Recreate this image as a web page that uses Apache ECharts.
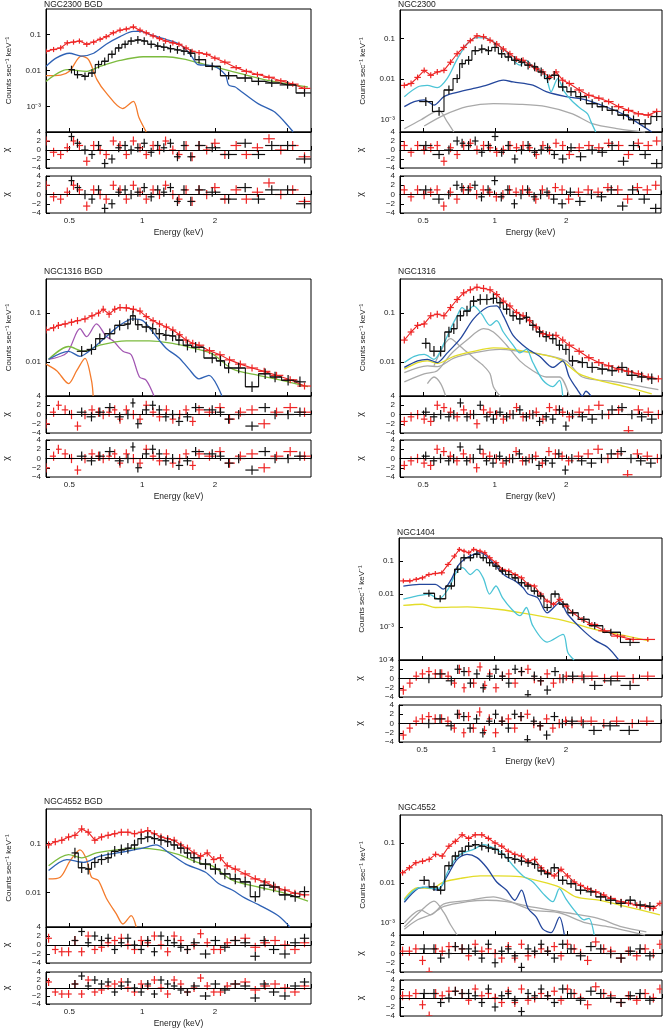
<!DOCTYPE html>
<html>
<head>
<meta charset="utf-8">
<script src="https://cdn.jsdelivr.net/npm/echarts@6/dist/echarts.min.js"></script>
<style>
  html, body { margin: 0; padding: 0; background: #fff; }
  #chart { width: 664px; height: 1029px; }
</style>
</head>
<body>
<div id="chart"></div>
<script>
// ---- NGC2300 BGD ----
const n2300bgdRed = [[0.40,.034],[0.43,.038],[0.46,.042],[0.49,.058],[0.52,.061],[0.55,.065],[0.59,.053],[0.63,.061],[0.67,.073],[0.71,.086],
  [0.76,.11],[0.81,.13],[0.86,.14],[0.92,.16],[0.98,.13],[1.04,.11],[1.11,.09],[1.18,.076],[1.25,.065],[1.34,.058],
  [1.42,.053],[1.52,.042],[1.61,.034],[1.72,.031],[1.85,.028],[2.0,.022],[2.2,.017],[2.45,.012],[2.7,.0095],[3.0,.0078],
  [3.35,.0065],[3.75,.0052],[4.2,.0042],[4.7,.0032]];
const n2300bgdResRed = [2,-0.5,-1,0.5,2,1,-2.5,1,0,-1, 2,1,-1,2,0.5,-1,1,0,2,0, -1,1,-1.5,1,0,1.5,-1,1,-1,0.5, 2.5,0,1,-1.5];
const n2300bgdBlack = [[0.51,.0106],[0.54,.0077],[0.58,.0069],[0.62,.0085],[0.66,.0146],[0.70,.018],[0.75,.028],[0.80,.042],[0.85,.053],[0.90,.065],
  [0.96,.07],[1.02,.065],[1.09,.053],[1.16,.047],[1.23,.044],[1.31,.04],[1.40,.037],[1.49,.034],[1.59,.03],[1.72,.02],
  [1.95,.013],[2.28,.0072],[2.67,.0062],[3.03,.005],[3.44,.0045],[4.0,.004],[4.7,.0024]];
const n2300bgdResBlack = [3,1.5,0,-1,1,-3,-2,0.5,1,0, 0.5,1.5,-0.5,1,0.5,1.5,-1.5,1,-1.5,1, 0.5,-1,1.5,-1,1,1,-2];
const n2300bgdBlue = [[0.4,.013],[0.44,.022],[0.5,.03],[0.56,.025],[0.63,.03],[0.71,.053],[0.81,.086],[0.92,.12],[0.99,.12],[1.07,.1],
  [1.25,.073],[1.45,.05],[1.6,.025],[1.7,.0146],[1.95,.0137],[2.21,.0077],[2.28,.004],[2.43,.0035],[2.51,.003],[3.03,.0012],[3.55,.0007],[4.22,.0002]];
const n2300bgdGreen = [[0.4,.005],[0.49,.0106],[0.59,.0095],[0.67,.013],[0.81,.019],[1.01,.024],[1.25,.024],[1.47,.021],[1.83,.0146],[2.35,.0095],[3.2,.0056],[4.85,.0035]];
const n2300bgdOrange = [[0.4,.0072],[0.46,.0075],[0.5,.0095],[0.56,.025],[0.6,.02],[0.65,.0056],[0.71,.0024],[0.83,.00089],[0.92,.0014],[0.97,.0005],[1.04,.0002]];

// ---- NGC2300 ----
const n2300Red = [[.417,.007],[.445,.0078],[.474,.011],[.505,.0164],[.538,.0124],[.573,.015],[.611,.0164],[.651,.026],[.694,.042],[.739,.06],
  [.788,.088],[.84,.116],[.895,.11],[.953,.09],[1.016,.073],[1.083,.055],[1.154,.042],[1.23,.031],[1.31,.029],[1.396,.022],
  [1.488,.018],[1.586,.015],[1.69,.011],[1.8,.015],[1.92,.0094],[2.045,.0078],[2.25,.0054],[2.47,.004],[2.72,.0034],[2.99,.0028],
  [3.29,.0021],[3.62,.0017],[3.98,.0014],[4.38,.0013],[4.75,.0016]];
const n2300ResRed = [1,-0.5,1,0,0.5,1,-2.5,0.5,-1,1, 1.5,0,1,0.5,-0.5,0,1,0.5,1,0.5, -1,1,0,1.5,1,-1,0.5,1,0.5,1.5, 1,-1,1.5,1,2];
const n2300Black = [[.513,.0028],[.583,.0016],[.641,.0054],[.694,.0103],[.728,.024],[.775,.029],[.826,.05],[.88,.055],[.938,.05],[1.0,.06],
  [1.066,.042],[1.136,.035],[1.21,.029],[1.29,.026],[1.375,.022],[1.465,.02],[1.56,.015],[1.66,.0103],[1.77,.0124],[1.92,.0064],
  [2.08,.0049],[2.28,.0037],[2.55,.0025],[2.81,.0021],[3.09,.0017],[3.45,.0013],[3.8,.001],[4.25,.0008],[4.75,.0012]];
const n2300ResBlack = [1,-1,0,2,1.5,1,2,-0.5,1,3, -0.5,1,-2,0,1,-0.5,0,0.5,-1,-2, 0.5,-1.5,0,-0.5,1,-2.5,1,-1,-3];
const n2300Cyan = [[.417,.0037],[.474,.0064],[.52,.007],[.573,.0062],[.63,.0103],[.694,.031],[.763,.073],[.84,.105],[.924,.1],[1.016,.073],
  [1.118,.046],[1.27,.022],[1.353,.029],[1.44,.02],[1.536,.017],[1.637,.011],[1.716,.0049],[1.83,.0103],[1.95,.0049],[2.11,.0028],
  [2.28,.0019],[2.44,.0014],[2.52,.0009],[2.64,.0005]];
const n2300Blue = [[.417,.0021],[.459,.0028],[.505,.0031],[.555,.0023],[.611,.0037],[.672,.0045],[.813,.0059],[.924,.0071],[1.083,.0094],[1.19,.0085],
  [1.44,.0071],[1.637,.0049],[1.98,.0037],[2.4,.0031],[2.9,.0021],[3.5,.0013],[4.53,.0005]];
const n2300GrayA = [[.505,.0007],[.611,.0013],[.763,.0021],[.984,.0025],[1.27,.0024],[1.637,.0021],[2.11,.0014],[2.55,.0008],[3.29,.0006],[4.25,.0005]];
const n2300GrayB = [[.417,.0006],[.49,.001],[.538,.0014],[.582,.0017],[.63,.0009],[.672,.0005]];

// ---- NGC1316 BGD ----
const n1316bgdRed = [[0.40,.045],[0.43,.05],[0.45,.056],[0.48,.06],[0.51,.065],[0.54,.07],[0.58,.076],[0.62,.088],[0.66,.1],[0.69,.12],
  [0.73,.095],[0.77,.12],[0.81,.13],[0.86,.128],[0.92,.12],[0.98,.11],[1.04,.085],[1.11,.07],[1.18,.06],[1.26,.052],
  [1.34,.045],[1.43,.036],[1.52,.028],[1.62,.024],[1.72,.022],[1.9,.017],[2.1,.014],[2.3,.011],[2.55,.009],[2.85,.0075],
  [3.2,.0064],[3.6,.0053],[4.1,.0043],[4.7,.0032]];
const n1316bgdResRed = [-2,0.5,2,1,0,-2.5,0,1,0.5,0, 0.5,1,-1,1,0,-1,2,0.5,-0.5,1, -1,0,1,-1.5,1,0.5,1.5,-1,0.5,1, -2,0.5,1.5,0.5];
const n1316bgdBlack = [[.562,.0165],[.617,.018],[.668,.03],[.735,.038],[.807,.056],[.873,.06],[.916,.088],[.96,.058],[1.04,.052],[1.106,.048],
  [1.178,.038],[1.254,.035],[1.337,.034],[1.42,.028],[1.54,.022],[1.665,.02],[1.95,.012],[2.11,.0105],[2.28,.0075],[2.51,.0075],
  [2.85,.0031],[3.23,.0057],[3.55,.0049],[4.02,.0042],[4.5,.0039]];
const n1316bgdResBlack = [0.5,-0.5,0.5,1.5,-0.5,0,2.5,-2,1,2, 1,-0.5,0,-1.5,-0.5,1.5,1,0.5,-1,0, -2.5,1.5,0,0,0.5];
const n1316bgdBlue = [[0.41,.0113],[0.496,.0165],[0.553,.013],[0.627,.0193],[0.711,.033],[0.807,.056],[0.916,.076],[1.006,.07],[1.106,.041],[1.254,.0193],
  [1.42,.0122],[1.56,.0072],[1.72,.0045],[1.89,.0053],[2.14,.002]];
const n1316bgdGreen = [[0.41,.0113],[0.496,.0207],[0.571,.0165],[0.668,.022],[0.86,.027],[1.07,.027],[1.337,.024],[1.61,.0193],[1.95,.0146],[2.36,.0072],
  [3.03,.0053],[3.78,.0042],[4.86,.0031]];
const n1316bgdPurple = [[0.41,.0113],[0.488,.0153],[0.553,.048],[0.589,.033],[0.647,.06],[0.711,.033],[0.758,.027],[0.833,.0165],[0.901,.014],[0.975,.0049],[1.04,.0042],[1.12,.002]];
const n1316bgdOrange = [[0.40,.009],[0.443,.0066],[0.496,.0036],[0.536,.0066],[0.58,.0118],[0.617,.0042],[0.627,.002]];

// ---- NGC1316 ----
const n1316Red = [[.417,.028],[.445,.041],[.474,.056],[.505,.06],[.538,.088],[.573,.095],[.611,.088],[.651,.13],[.694,.19],[.739,.26],
  [.788,.3],[.84,.34],[.895,.32],[.953,.3],[1.016,.24],[1.083,.176],[1.154,.14],[1.23,.103],[1.31,.088],[1.396,.07],
  [1.488,.052],[1.586,.038],[1.69,.035],[1.8,.035],[1.92,.028],[2.045,.022],[2.25,.0165],[2.47,.0122],[2.72,.0097],[2.99,.0083],
  [3.29,.0071],[3.62,.0064],[3.98,.0057],[4.38,.0049],[4.83,.0045]];
const n1316ResRed = [-1.5,-0.5,0,-1,-1.5,2,1.5,0.5,-0.5,1, 0,-2,1,0.5,0,-1,0,1.5,-0.5,0, 0.5,-1,1.5,1,0.5,-0.5,0.5,1,2,0, 1,-3.5,1,0.5,0];
const n1316Black = [[.513,.024],[.555,.0165],[.592,.0165],[.641,.041],[.672,.048],[.716,.088],[.763,.11],[.813,.176],[.867,.19],[.924,.19],
  [.984,.2],[1.049,.163],[1.118,.12],[1.19,.088],[1.27,.076],[1.353,.082],[1.44,.056],[1.536,.041],[1.637,.033],[1.745,.03],
  [1.86,.022],[1.98,.018],[2.11,.0105],[2.32,.0097],[2.55,.0077],[2.81,.0071],[3.09,.0066],[3.4,.0077],[3.74,.0053],[4.11,.0049],[4.53,.0045]];
const n1316ResBlack = [0.5,-0.5,0,-0.5,0,2.5,-0.5,0,2,-0.5, -1,0.5,-0.5,0,1,-0.5,0,-1.5,-0.5,-1, 1,-2.5,0,-0.5,-1,0,1,1.5,0,-0.5,-1];
const n1316Cyan = [[.417,.0097],[.459,.013],[.505,.0142],[.555,.0113],[.611,.024],[.651,.048],[.694,.088],[.728,.13],[.763,.11],[.813,.14],
  [.88,.095],[.953,.056],[1.016,.07],[1.083,.041],[1.19,.022],[1.27,.0153],[1.353,.018],[1.44,.0097],[1.586,.0042],[1.745,.0031],[1.86,.0042],[1.92,.002]];
const n1316Blue = [[.417,.0077],[.474,.0105],[.521,.0113],[.573,.0097],[.631,.0153],[.716,.03],[.813,.076],[.924,.13],[1.016,.14],[1.083,.088],
  [1.19,.035],[1.353,.0193],[1.536,.013],[1.745,.0077],[1.92,.0105],[2.045,.0049],[2.21,.0027],[2.32,.002],[2.4,.0025],[2.52,.002]];
const n1316Yellow = [[.417,.0071],[.474,.0097],[.521,.0105],[.573,.0093],[.672,.013],[.813,.0165],[.984,.0193],[1.19,.018],[1.44,.0153],[1.86,.0113],
  [2.25,.0057],[2.72,.0042],[3.51,.0031],[4.53,.0022]];
const n1316GrayA = [[.417,.006],[.521,.0083],[.573,.008],[.672,.012],[.813,.0153],[1.049,.018],[1.27,.0165],[1.536,.0146],[1.98,.0105],[2.32,.0049],[3.19,.0039],[4.83,.0027]];
const n1316GrayB = [[.417,.0039],[.505,.0057],[.573,.0066],[.651,.0142],[.763,.028],[.895,.048],[.984,.041],[1.118,.022],[1.27,.0105],[1.44,.0066],[1.637,.0049],[1.86,.0049],[2.045,.002]];
const n1316GrayC = [[.555,.0083],[.651,.03],[.716,.0207],[.813,.0122],[.895,.0083],[.953,.0057],[.984,.0031],[1.049,.002]];
const n1316GrayD = [[.521,.0036],[.555,.0049],[.592,.0036],[.621,.002]];

// ---- NGC1404 ----
const n1404Red = [[.417,.025],[.444,.025],[.472,.028],[.501,.031],[.533,.039],[.567,.042],[.603,.044],[.641,.079],[.682,.142],[.714,.226],
  [.747,.2],[.782,.179],[.819,.226],[.871,.2],[.912,.179],[.955,.126],[1.015,.089],[1.08,.056],[1.148,.05],[1.22,.039],
  [1.297,.031],[1.38,.0196],[1.467,.0175],[1.56,.01],[1.66,.0061],[1.763,.0049],[1.875,.0069],[1.994,.0043],[2.12,.0027],[2.32,.0017],
  [2.55,.0012],[2.88,.00077],[3.26,.00053],[3.79,.00042],[4.36,.00042]];
const n1404ResRed = [-2.5,-1,0.5,1,1.5,1,1,0.5,-1,2, -2,1.5,-1,2.5,-1.5,1,-2,0.5,1,-1, 1.5,2,0,-0.5,1,-1,0,0.5,0,0.5, 0.5,0,0.5,0,0.5];
const n1404Black = [[.533,.0105],[.594,.0072],[.661,.0175],[.703,.056],[.747,.126],[.794,.126],[.845,.16],[.898,.126],[.955,.089],[1.015,.07],
  [1.08,.05],[1.148,.039],[1.22,.031],[1.297,.022],[1.38,.0175],[1.467,.0123],[1.56,.0087],[1.66,.0039],[1.79,.01],[1.933,.0049],
  [2.12,.0027],[2.36,.0017],[2.62,.0011],[3.06,.00069],[3.68,.00034]];
const n1404ResBlack = [0,1,-0.5,2,1.5,-1,1,-2,0.5,2, 0.5,-1,2,1.5,-3.5,0.5,-0.5,-2.5,1.5,0, 0.5,0,-1.5,-0.5,-1.5];
const n1404Blue = [[.417,.0175],[.486,.0196],[.567,.0196],[.612,.014],[.661,.028],[.703,.07],[.747,.112],[.819,.16],[.871,.179],[.926,.142],
  [1.015,.07],[1.113,.035],[1.22,.025],[1.318,.0155],[1.38,.01],[1.513,.0078],[1.66,.0027],[1.875,.0055],[2.024,.0024],[2.32,.00085],
  [2.62,.0004],[2.97,.00024],[3.3,.0001]];
const n1404Cyan = [[.417,.007],[.472,.0087],[.533,.01],[.585,.007],[.641,.014],[.692,.044],[.736,.063],[.794,.039],[.845,.056],[.898,.031],
  [.955,.01],[1.015,.0175],[1.08,.0078],[1.184,.0034],[1.278,.0022],[1.359,.0039],[1.445,.0011],[1.66,.00035],[1.933,.0006],[2.024,.00017],[2.15,.0001]];
const n1404Yellow = [[.417,.0045],[.501,.0049],[.567,.0039],[.77,.0041],[1.05,.0034],[1.42,.0024],[1.933,.0016],[2.62,.00085],[3.57,.00053],[4.42,.00038]];

// ---- NGC4552 BGD ----
const n4552bgdRed = [[.41,.093],[.437,.108],[.465,.116],[.496,.135],[.527,.146],[.562,.197],[.598,.169],[.637,.116],[.679,.135],[.723,.146],
  [.77,.157],[.82,.169],[.873,.169],[.93,.157],[.991,.169],[1.055,.182],[1.124,.157],[1.197,.135],[1.275,.125],[1.357,.116],
  [1.446,.093],[1.54,.08],[1.64,.064],[1.746,.055],[1.86,.064],[1.98,.047],[2.11,.051],[2.25,.035],[2.43,.03],[2.67,.024],
  [2.94,.019],[3.23,.0165],[3.55,.013],[3.9,.0113],[4.29,.0097],[4.7,.009]];
const n4552bgdResRed = [1.5,-1,-1.5,-1.5,1,-1.5,2,-1,-0.5,0.5, 1,1.5,0,-1,1,0.5,2,0,-1.5,2, 1,-1,0,2.5,0.5,-1,-1,0.5,1,1.5, -0.5,0.5,1,0,-1,0.5];
const n4552bgdBlack = [[.527,.064],[.562,.032],[.598,.03],[.637,.041],[.679,.047],[.723,.051],[.77,.069],[.82,.074],[.873,.08],[.93,.093],
  [.991,.125],[1.055,.135],[1.124,.125],[1.197,.116],[1.275,.108],[1.357,.093],[1.446,.08],[1.54,.064],[1.64,.051],[1.83,.038],
  [2.01,.03],[2.2,.024],[2.43,.019],[2.67,.0165],[2.94,.0083],[3.2,.0141],[3.5,.013],[3.9,.009],[4.3,.0083],[4.7,.0105]];
const n4552bgdResBlack = [1,3,0.5,2,1,1.5,-1,0.5,1.5,0, -1,1,-1.5,2,1,0.5,-0.5,-1,0.5,-2, 1,-0.5,1,0.5,-2.5,1,-1,-2,0.5,1.5];
const n4552bgdGreen = [[.41,.035],[.496,.059],[.562,.051],[.647,.064],[.78,.074],[.975,.08],[1.18,.074],[1.42,.059],[1.72,.04],[1.95,.035],
  [2.36,.018],[3.03,.013],[3.9,.0097],[4.86,.0067]];
const n4552bgdBlue = [[.41,.028],[.488,.047],[.571,.041],[.668,.055],[.86,.069],[1.006,.08],[1.14,.093],[1.294,.064],[1.516,.038],[1.83,.026],
  [2.07,.0153],[2.36,.0113],[2.67,.0077],[3.03,.0057],[3.66,.0034],[4.09,.002]];
const n4552bgdOrange = [[.41,.019],[.458,.0206],[.503,.044],[.553,.074],[.589,.047],[.617,.0206],[.658,.0177],[.711,.0077],[.782,.0037],[.833,.0023],[.901,.0034],[.945,.002]];

// ---- NGC4552 ----
const n4552Red = [[.41,.018],[.438,.024],[.466,.032],[.497,.035],[.53,.039],[.564,.052],[.601,.047],[.641,.083],[.682,.11],[.728,.16],
  [.775,.13],[.826,.16],[.88,.16],[.938,.13],[1.0,.1],[1.066,.083],[1.136,.062],[1.21,.052],[1.29,.047],[1.375,.035],
  [1.465,.039],[1.56,.024],[1.66,.018],[1.77,.015],[1.89,.022],[2.01,.015],[2.145,.0106],[2.28,.0087],[2.44,.0072],[2.64,.006],
  [2.85,.005],[3.05,.0041],[3.37,.0034],[3.62,.0031],[3.92,.0028],[4.25,.0026],[4.6,.0023],[4.9,.0031]];
const n4552ResRed = [0.5,0.5,1,-1.5,-4,1,0.5,1.5,1.5,1, -0.5,2,0.5,1,0,-1,1.5,-1,2,-0.5, 0,1,0.5,1.5,-0.5,2,1,0,-1.5,2.5, 1,0.5,-1,0.5,-0.5,1,0,2];
const n4552Black = [[.505,.0116],[.555,.008],[.592,.0066],[.641,.027],[.682,.047],[.728,.062],[.775,.083],[.826,.091],[.88,.083],[.938,.075],
  [1.0,.069],[1.066,.052],[1.136,.043],[1.21,.039],[1.29,.035],[1.375,.032],[1.465,.029],[1.56,.02],[1.66,.017],[1.77,.024],
  [1.92,.0116],[2.08,.0096],[2.28,.0066],[2.52,.006],[2.77,.0045],[3.05,.0037],[3.37,.0031],[3.68,.0037],[4.05,.0028],[4.45,.0026]];
const n4552ResBlack = [1,1,-1,0,1.5,1,1,0.5,-1,2, -2,0.5,1,-0.5,-3,1,0.5,2,0.5,-1, 2,1,-0.5,1.5,1,0,-1,0.5,1,-0.5];
const n4552Cyan = [[.417,.0037],[.459,.0066],[.497,.0079],[.555,.0072],[.592,.0079],[.631,.018],[.672,.035],[.716,.052],[.813,.069],[.895,.091],
  [.984,.075],[1.083,.052],[1.19,.027],[1.31,.015],[1.44,.0106],[1.586,.0055],[1.745,.0034],[1.86,.0072],[1.98,.004],[2.145,.0021],
  [2.36,.0012],[2.47,.0013],[2.6,.0005]];
const n4552Blue = [[.417,.0033],[.474,.0072],[.521,.0079],[.573,.0066],[.631,.015],[.694,.039],[.763,.052],[.84,.043],[.924,.024],[1.016,.0106],
  [1.118,.0066],[1.21,.0037],[1.29,.0066],[1.375,.0023],[1.488,.0014],[1.586,.0007],[1.716,.00057],[1.86,.0014],[1.95,.0005]];
const n4552Yellow = [[.417,.004],[.474,.0076],[.538,.0072],[.611,.0106],[.716,.013],[.867,.015],[1.016,.015],[1.27,.0144],[1.488,.0116],[1.86,.0079],
  [2.18,.0045],[2.72,.0037],[3.51,.0026],[4.9,.0016]];
const n4552GrayA = [[.417,.001],[.489,.0021],[.538,.0016],[.611,.003],[.763,.0036],[.984,.0045],[1.118,.0037],[1.44,.0021],[1.86,.0018],[2.4,.001],[3.0,.0008],[4.25,.0005]];
const n4552GrayB = [[.417,.0007],[.474,.0012],[.538,.0016],[.611,.0026],[.763,.0034],[.924,.0037],[1.118,.0034],[1.44,.0025],[2.0,.0018],[2.7,.0013],[3.4,.0008],[4.3,.0006]];
const n4552GrayC = [[.417,.0008],[.489,.002],[.555,.0035],[.611,.0018],[.651,.0009],[.694,.0005]];

// colours of the model components
const C = {
  orange: '#f47b2c', green: '#7cbb3e', blue: '#2f62b5', navy: '#24479c',
  purple: '#a256b2', cyan: '#4cc4d6', gray: '#a9a9a9', yellow: '#e3dc28'
};

// panel frames (pixel layout) + which arrays go in each one
const panels = [
  { title: 'NGC2300 BGD', left: 46, width: 265, tops: [9, 132, 176], heights: [123, 36, 37], ymin: 2e-4, titleTop: 0, energy: true,
    red: n2300bgdRed, black: n2300bgdBlack, resRed: n2300bgdResRed, resBlack: n2300bgdResBlack,
    comps: [[n2300bgdOrange, C.orange], [n2300bgdGreen, C.green], [n2300bgdBlue, C.blue]] },
  { title: 'NGC2300', left: 400, width: 262, tops: [10, 132, 176], heights: [122, 36, 37], ymin: 5e-4, titleTop: 0, energy: true,
    red: n2300Red, black: n2300Black, resRed: n2300ResRed, resBlack: n2300ResBlack,
    comps: [[n2300GrayA, C.gray], [n2300GrayB, C.gray], [n2300Blue, C.navy], [n2300Cyan, C.cyan]] },
  { title: 'NGC1316 BGD', left: 46, width: 265, tops: [279, 396, 440], heights: [117, 37, 37], ymin: 2e-3, titleTop: 267, energy: true,
    red: n1316bgdRed, black: n1316bgdBlack, resRed: n1316bgdResRed, resBlack: n1316bgdResBlack,
    comps: [[n1316bgdOrange, C.orange], [n1316bgdPurple, C.purple], [n1316bgdGreen, C.green], [n1316bgdBlue, C.blue]] },
  { title: 'NGC1316', left: 400, width: 262, tops: [279, 396, 440], heights: [117, 37, 37], ymin: 2e-3, titleTop: 267, energy: true,
    red: n1316Red, black: n1316Black, resRed: n1316ResRed, resBlack: n1316ResBlack,
    comps: [[n1316GrayA, C.gray], [n1316GrayB, C.gray], [n1316GrayC, C.gray], [n1316GrayD, C.gray],
            [n1316Yellow, C.yellow], [n1316Blue, C.navy], [n1316Cyan, C.cyan]] },
  { title: 'NGC1404', left: 399, width: 263, tops: [538, 660, 705], heights: [122, 37, 37], ymin: 1e-4, titleTop: 528, energy: true,
    red: n1404Red, black: n1404Black, resRed: n1404ResRed, resBlack: n1404ResBlack,
    comps: [[n1404Yellow, C.yellow], [n1404Cyan, C.cyan], [n1404Blue, C.navy]] },
  { title: 'NGC4552 BGD', left: 46, width: 265, tops: [809, 927, 972], heights: [118, 36, 36], ymin: 2e-3, titleTop: 797, energy: true,
    red: n4552bgdRed, black: n4552bgdBlack, resRed: n4552bgdResRed, resBlack: n4552bgdResBlack,
    comps: [[n4552bgdOrange, C.orange], [n4552bgdGreen, C.green], [n4552bgdBlue, C.blue]] },
  { title: 'NGC4552', left: 400, width: 262, tops: [815, 935, 980], heights: [120, 37, 36], ymin: 5e-4, titleTop: 803, energy: false,
    red: n4552Red, black: n4552Black, resRed: n4552ResRed, resBlack: n4552ResBlack,
    comps: [[n4552GrayA, C.gray], [n4552GrayB, C.gray], [n4552GrayC, C.gray], [n4552Yellow, C.yellow],
            [n4552Blue, C.navy], [n4552Cyan, C.cyan]] }
];

const FONT = 'Liberation Sans, Arial, sans-serif';
const RED = '#ee2424';
const BLACK = '#111';

// bin edges halfway (in log) between neighbouring energies
function binEdges(pts) {
  const n = pts.length;
  return pts.map((p, i) => {
    const lo = i > 0 ? Math.sqrt(pts[i - 1][0] * p[0]) : p[0] * p[0] / Math.sqrt(p[0] * pts[1][0]);
    const hi = i < n - 1 ? Math.sqrt(pts[i + 1][0] * p[0]) : p[0] * p[0] / Math.sqrt(p[0] * pts[n - 2][0]);
    return [lo, hi];
  });
}

function specCrosses(pts, err) {
  const e = binEdges(pts);
  return pts.map((p, i) => [p[0], p[1], e[i][0], e[i][1], p[1] / err, p[1] * err]);
}

function resCrosses(pts, res) {
  const e = binEdges(pts);
  return pts.map((p, i) => [p[0], res[i], e[i][0], e[i][1], res[i] - 1, res[i] + 1]);
}

function crossRender(color) {
  return function (params, api) {
    const y = api.value(1), x = api.value(0);
    const a = api.coord([api.value(2), y]), b = api.coord([api.value(3), y]);
    const c = api.coord([x, api.value(4)]), d = api.coord([x, api.value(5)]);
    const st = { stroke: color, lineWidth: 1.2 };
    return {
      type: 'group',
      children: [
        { type: 'line', shape: { x1: a[0], y1: a[1], x2: b[0], y2: b[1] }, style: st },
        { type: 'line', shape: { x1: c[0], y1: c[1], x2: d[0], y2: d[1] }, style: st }
      ]
    };
  };
}

function energyLabel(v) {
  const r = Math.round(v * 100) / 100;
  return (r === 0.5 || r === 1 || r === 2) ? String(r) : '';
}

function countLabel(v) {
  const e = Math.log10(v), n = Math.round(e);
  if (Math.abs(e - n) > 1e-6) return '';
  return { '-1': '0.1', '-2': '0.01', '-3': '10⁻³', '-4': '10⁻⁴' }[n] || '';
}

function chiLabel(v) {
  return v < 0 ? '−' + (-v) : String(v);
}

const grid = [], xAxis = [], yAxis = [], series = [], title = [];
const tick = { inside: true, length: 4, lineStyle: { color: '#000' } };
const line = { lineStyle: { color: '#000', width: 1 } };

panels.forEach((p, k) => {
  title.push({
    text: p.title, left: p.left - 2, top: p.titleTop, padding: 0,
    textStyle: { fontSize: 8.5, fontWeight: 'normal', color: '#222', fontFamily: FONT }
  });
  for (let j = 0; j < 3; j++) {
    const gi = k * 3 + j;
    grid.push({ left: p.left, width: p.width, top: p.tops[j], height: p.heights[j],
      show: true, borderColor: '#000', borderWidth: 1, backgroundColor: 'transparent' });
    const last = j === 2 && p.energy;
    xAxis.push({
      type: 'log', logBase: 2, gridIndex: gi, min: 0.4, max: 5,
      axisLine: line, axisTick: tick, splitLine: { show: false },
      axisLabel: { show: last, fontSize: 8, color: '#222', margin: 4, fontFamily: FONT, formatter: energyLabel },
      name: last ? 'Energy (keV)' : '', nameLocation: 'middle', nameGap: 15,
      nameTextStyle: { fontSize: 8.5, color: '#222', fontFamily: FONT }
    });
    if (j === 0) {
      yAxis.push({
        type: 'log', logBase: 10, gridIndex: gi, min: p.ymin, max: 0.5,
        axisLine: line, axisTick: tick, splitLine: { show: false },
        axisLabel: { fontSize: 8, color: '#222', margin: 5, fontFamily: FONT, formatter: countLabel,
          showMinLabel: p.ymin === 1e-4, showMaxLabel: false },
        name: 'Counts sec⁻¹ keV⁻¹', nameLocation: 'middle', nameGap: 33,
        nameTextStyle: { fontSize: 8, color: '#222', fontFamily: FONT }
      });
    } else {
      yAxis.push({
        type: 'value', gridIndex: gi, min: -4, max: 4, interval: 2,
        axisLine: line, axisTick: tick, splitLine: { show: false },
        axisLabel: { fontSize: 8, color: '#222', margin: 5, fontFamily: FONT, formatter: chiLabel },
        name: 'χ', nameLocation: 'middle', nameGap: 35,
        nameTextStyle: { fontSize: 9, color: '#222', fontFamily: FONT }
      });
    }
  }
  const g0 = k * 3;
  // model components
  p.comps.forEach(([pts, color]) => {
    series.push({ type: 'line', xAxisIndex: g0, yAxisIndex: g0, data: pts, showSymbol: false,
      smooth: 0.3, lineStyle: { color: color, width: 1.3 }, silent: true, z: 2 });
  });
  // folded totals
  series.push({ type: 'line', xAxisIndex: g0, yAxisIndex: g0, data: p.red, showSymbol: false,
    lineStyle: { color: RED, width: 1.1 }, silent: true, z: 3 });
  series.push({ type: 'line', xAxisIndex: g0, yAxisIndex: g0, data: p.black, showSymbol: false, step: 'middle',
    lineStyle: { color: BLACK, width: 1.1 }, silent: true, z: 3 });
  // data points
  series.push({ type: 'custom', xAxisIndex: g0, yAxisIndex: g0, clip: true, z: 4,
    renderItem: crossRender(RED), encode: { x: 0, y: 1 }, data: specCrosses(p.red, 1.18) });
  series.push({ type: 'custom', xAxisIndex: g0, yAxisIndex: g0, clip: true, z: 5,
    renderItem: crossRender(BLACK), encode: { x: 0, y: 1 }, data: specCrosses(p.black, 1.28) });
  // residual panels
  for (let j = 1; j < 3; j++) {
    const gi = g0 + j;
    series.push({ type: 'custom', xAxisIndex: gi, yAxisIndex: gi, clip: true, z: 4,
      renderItem: crossRender(RED), encode: { x: 0, y: 1 }, data: resCrosses(p.red, p.resRed),
      markLine: { silent: true, symbol: 'none', label: { show: false },
        lineStyle: { color: '#000', width: 1.2, type: 'solid' }, data: [{ yAxis: 0 }] } });
    series.push({ type: 'custom', xAxisIndex: gi, yAxisIndex: gi, clip: true, z: 5,
      renderItem: crossRender(BLACK), encode: { x: 0, y: 1 }, data: resCrosses(p.black, p.resBlack) });
  }
});

const chart = echarts.init(document.getElementById('chart'), null, { renderer: 'canvas' });
chart.setOption({
  backgroundColor: '#fff',
  animation: false,
  textStyle: { fontFamily: FONT },
  title, grid, xAxis, yAxis, series
});
</script>
</body>
</html>
